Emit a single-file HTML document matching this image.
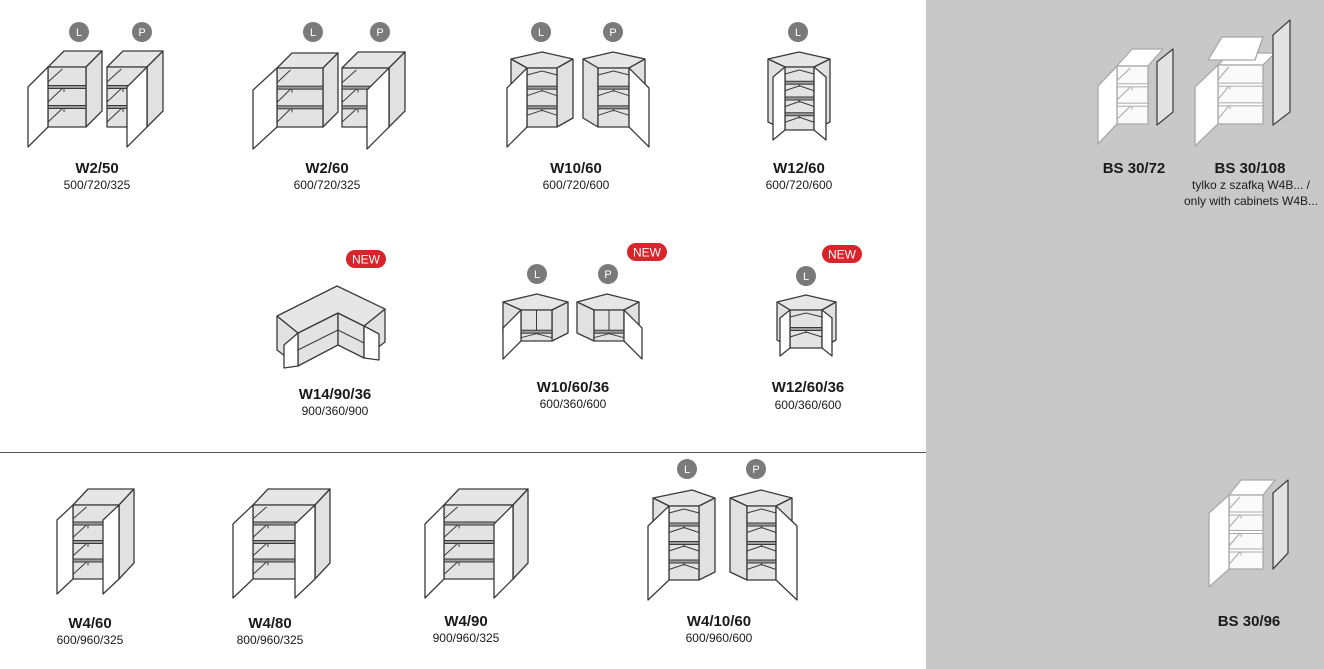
<!DOCTYPE html>
<html><head><meta charset="utf-8"><style>
html,body{margin:0;padding:0;background:#fff}
body{width:1324px;height:669px;overflow:hidden;position:relative;font-family:"Liberation Sans",sans-serif}
svg{position:absolute;left:0;top:0}
.t{font-weight:bold;font-size:15px;fill:#1a1a1a;text-anchor:middle}
.d{font-size:12px;fill:#1a1a1a;text-anchor:middle}
.c{font-size:11px;fill:#fff;text-anchor:middle}
.n{font-size:12px;fill:#fff;text-anchor:middle}
</style></head><body>
<svg id="s" width="1324" height="669" viewBox="0 0 1324 669">
<rect x="926" y="0" width="398" height="669" fill="#c8c8c8"/>
<line x1="0" y1="452.5" x2="926" y2="452.5" stroke="#555" stroke-width="1"/>
<g id="g"></g>
<text class="t" x="97" y="173">W2/50</text><text class="d" x="97" y="189">500/720/325</text>
<text class="t" x="327" y="173">W2/60</text><text class="d" x="327" y="189">600/720/325</text>
<text class="t" x="576" y="173">W10/60</text><text class="d" x="576" y="189">600/720/600</text>
<text class="t" x="799" y="173">W12/60</text><text class="d" x="799" y="189">600/720/600</text>
<text class="t" x="1134" y="173">BS 30/72</text>
<text class="t" x="1250" y="173">BS 30/108</text>
<text class="d" x="1251" y="189">tylko z szafką W4B... /</text>
<text class="d" x="1251" y="205">only with cabinets W4B...</text>
<text class="t" x="335" y="399">W14/90/36</text><text class="d" x="335" y="415">900/360/900</text>
<text class="t" x="573" y="392">W10/60/36</text><text class="d" x="573" y="408">600/360/600</text>
<text class="t" x="808" y="392">W12/60/36</text><text class="d" x="808" y="409">600/360/600</text>
<text class="t" x="90" y="628">W4/60</text><text class="d" x="90" y="644">600/960/325</text>
<text class="t" x="270" y="628">W4/80</text><text class="d" x="270" y="644">800/960/325</text>
<text class="t" x="466" y="626">W4/90</text><text class="d" x="466" y="642">900/960/325</text>
<text class="t" x="719" y="626">W4/10/60</text><text class="d" x="719" y="642">600/960/600</text>
<text class="t" x="1249" y="626">BS 30/96</text>
</svg>
<script>
const S='#3a3a3a';let o='';
const P=(pts,f,st=S,sw=1.3)=>{o+=`<polygon points="${pts.map(p=>p.join(',')).join(' ')}" fill="${f}" stroke="${st}" stroke-width="${sw}" stroke-linejoin="round"/>`};
const L=(a,b,st=S,sw=1)=>{o+=`<line x1="${a[0]}" y1="${a[1]}" x2="${b[0]}" y2="${b[1]}" stroke="${st}" stroke-width="${sw}"/>`};
function circ(x,y,t){o+=`<circle cx="${x}" cy="${y}" r="10" fill="#7a7a7a"/><text class="c" x="${x}" y="${y+4}">${t}</text>`}
function nw(x,y){o+=`<rect x="${x-20}" y="${y-9}" width="40" height="18" rx="9" fill="#d9242b"/><text class="n" x="${x}" y="${y+4.5}">NEW</text>`}
function box(b){const {x,y,w,h,d,dy=d,n,dw,dd,doors,light,noside}=b;
 const st=light?'#a8a8a8':S, f1=light?'#fff':'#e6e6e6', f2=light?'#fff':'#e1e1e1', f3=light?'#fafafa':'#e3e3e3', sb=light?'#fff':'#9a9a9a';
 P([[x,y],[x+d,y-dy],[x+w+d,y-dy],[x+w,y]],f1,st);
 if(!noside)P([[x+w,y],[x+w+d,y-dy],[x+w+d,y+h-dy],[x+w,y+h]],f2,st);
 P([[x,y],[x+w,y],[x+w,y+h],[x,y+h]],f3,st);
 const sec=h/(n+1);
 L([x,y+sec*0.75],[x+d*0.9,y+2],st);
 for(let i=1;i<=n;i++){const sy=y+sec*i;o+=`<rect x="${x}" y="${sy-1.5}" width="${w}" height="3" fill="${sb}" stroke="${st}" stroke-width="1"/>`;
  L([x,sy+sec*0.75],[x+d*0.9,sy+1.5],st);L([x+d,sy+1.5],[x+d,sy+5],st);}
 if(doors.includes('L'))P([[x,y],[x-dw,y+dd],[x-dw,y+h+dd],[x,y+h]],'#fff',st);
 if(doors.includes('R'))P([[x+w,y],[x+w-dw,y+dd],[x+w-dw,y+h+dd],[x+w,y+h]],'#fff',st);
}
function corner(c){const {ax,ay,lx,rx,by,fl,fr,fy,fb,n,dw,dd,doors,div}=c;const k=fy-by;
 P([[lx,by],[ax,ay],[rx,by],[fr,fy],[fl,fy]],'#e6e6e6');
 P([[lx,by],[fl,fy],[fl,fb],[lx,fb-k]],'#e1e1e1');
 P([[fr,fy],[rx,by],[rx,fb-k],[fr,fb]],'#e1e1e1');
 P([[fl,fy],[fr,fy],[fr,fb],[fl,fb]],'#e3e3e3');
 const m=(fl+fr)/2,sec=(fb-fy)/(n+1);
 if(div){L([m,fy],[m,fy+sec*n+ (n?0:(fb-fy)*0.7)]);const sy=fy+(fb-fy)*0.7;o+=`<rect x="${fl}" y="${sy-1.5}" width="${fr-fl}" height="3" fill="#9a9a9a" stroke="${S}" stroke-width="1"/>`;L([fl,sy+6],[m,sy+2]);L([m,sy+2],[fr,sy+6]);}
 else{L([fl,fy+7],[m,fy+3]);L([m,fy+3],[fr,fy+7]);
 for(let i=1;i<=n;i++){const sy=fy+sec*i;o+=`<rect x="${fl}" y="${sy-1.5}" width="${fr-fl}" height="3" fill="#9a9a9a" stroke="${S}" stroke-width="1"/>`;
  L([fl,sy+8],[m,sy+3]);L([m,sy+3],[fr,sy+8]);L([m,sy+1.5],[m,sy+4]);}}
 if(doors.includes('L'))P([[fl,fy],[fl-dw,fy+dd],[fl-dw,fb+dd],[fl,fb]],'#fff');
 if(doors.includes('R'))P([[fr,fy],[fr+dw,fy+dd],[fr+dw,fb+dd],[fr,fb]],'#fff');
}
// row 1
circ(79,32,'L');circ(142,32,'P');circ(313,32,'L');circ(380,32,'P');circ(541,32,'L');circ(613,32,'P');circ(798,32,'L');
box({x:48,y:67,w:38,h:60,d:16,n:2,dw:20,dd:20,doors:'L'});
box({x:107,y:67,w:40,h:60,d:16,n:2,dw:20,dd:20,doors:'R'});
box({x:277,y:68,w:46,h:59,d:15,n:2,dw:24,dd:22,doors:'L'});
box({x:342,y:68,w:47,h:59,d:16,n:2,dw:22,dd:22,doors:'R'});
corner({ax:542,ay:52,lx:511,rx:573,by:59,fl:527,fr:557,fy:68,fb:127,n:2,dw:20,dd:20,doors:'L'});
corner({ax:613,ay:52,lx:583,rx:645,by:59,fl:598,fr:629,fy:68,fb:127,n:2,dw:20,dd:20,doors:'R'});
corner({ax:799,ay:52,lx:768,rx:830,by:59,fl:785,fr:814,fy:67,fb:130,n:3,dw:12,dd:10,doors:'LR'});
// gray region
box({x:1117,y:66,w:31,h:58,d:15,dy:17,n:2,dw:19,dd:20,doors:'L',light:1,noside:1});
P([[1157,62],[1173,49],[1173,112],[1157,125]],'#e2e2e2','#444');
box({x:1218,y:65,w:45,h:59,d:12,dy:12,n:2,dw:23,dd:22,doors:'L',light:1,noside:1});
P([[1208,60],[1222,37],[1263,37],[1255,60]],'#fff','#a8a8a8');
P([[1273,35],[1290,20],[1290,112],[1273,125]],'#e2e2e2','#444');
box({x:1229,y:495,w:34,h:74,d:12,dy:15,n:3,dw:20,dd:18,doors:'L',light:1,noside:1});
P([[1273,493],[1288,480],[1288,553],[1273,569]],'#e2e2e2','#444');
// row 2
nw(366,259);nw(647,252);nw(842,254);circ(537,274,'L');circ(608,274,'P');circ(806,276,'L');
P([[277,316],[298,333],[298,366],[277,350]],'#e1e1e1');
P([[385,309],[364,326],[364,358],[385,342]],'#e1e1e1');
P([[298,333],[338,313],[338,345],[298,366]],'#e3e3e3');
P([[338,313],[364,326],[364,358],[338,345]],'#e3e3e3');
L([298,350],[338,330]);L([338,330],[364,343]);
P([[277,316],[337,286],[385,309],[364,326],[338,313],[298,333]],'#e6e6e6');
P([[298,333],[284,345],[284,368],[298,366]],'#fff');
P([[364,326],[379,334],[379,360],[364,358]],'#fff');
corner({ax:537,ay:294,lx:503,rx:568,by:302,fl:521,fr:552,fy:310,fb:341,n:0,dw:18,dd:18,doors:'L',div:1});
corner({ax:607,ay:294,lx:577,rx:639,by:302,fl:594,fr:624,fy:310,fb:341,n:0,dw:18,dd:18,doors:'R',div:1});
corner({ax:806,ay:295,lx:777,rx:836,by:302,fl:790,fr:822,fy:310,fb:348,n:1,dw:10,dd:8,doors:'LR'});
// row 3
circ(687,469,'L');circ(756,469,'P');
box({x:73,y:505,w:46,h:74,d:15,dy:16,n:3,dw:16,dd:15,doors:'LR'});
box({x:253,y:505,w:62,h:74,d:15,dy:16,n:3,dw:20,dd:19,doors:'LR'});
box({x:444,y:505,w:69,h:74,d:15,dy:16,n:3,dw:19,dd:19,doors:'LR'});
corner({ax:692,ay:490,lx:653,rx:715,by:498,fl:669,fr:699,fy:506,fb:580,n:3,dw:21,dd:20,doors:'L'});
corner({ax:761,ay:490,lx:730,rx:792,by:498,fl:747,fr:776,fy:506,fb:580,n:3,dw:21,dd:20,doors:'R'});
document.getElementById('g').innerHTML=o;
</script>
</body></html>
